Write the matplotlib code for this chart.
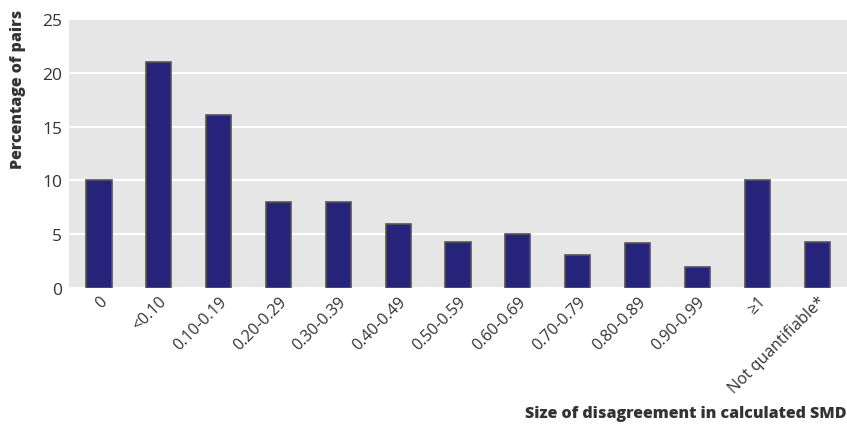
import matplotlib.pyplot as plt

categories = ['0', '<0.10', '0.10-0.19', '0.20-0.29', '0.30-0.39', '0.40-0.49',
              '0.50-0.59', '0.60-0.69', '0.70-0.79', '0.80-0.89', '0.90-0.99',
              '\u22651', 'Not quantifiable*']
values = [10, 21, 16.1, 8, 8, 6, 4.3, 5, 3.1, 4.2, 2, 10, 4.3]

plt.rcParams['font.family'] = ['Open Sans', 'DejaVu Sans']

fig = plt.figure(figsize=(8.47, 4.27), dpi=100)
ax = fig.add_axes([0.0815, 0.323, 0.9185, 0.63])
ax.set_facecolor('#e6e6e6')

index = range(len(categories))
ax.bar(index, values, 0.42, color='#25237a', edgecolor='#555555', linewidth=1.2, zorder=3)

ax.set_xlim(-0.5, 12.5)
ax.set_ylim(0, 25)
ax.set_yticks([0, 5, 10, 15, 20, 25])
ax.grid(axis='y', color='white', linewidth=1.5, zorder=0)
ax.set_axisbelow(True)
for s in ax.spines.values():
    s.set_visible(False)
ax.tick_params(length=0, labelsize=11.5, colors='#333333')
ax.tick_params(axis='y', pad=5, labelsize=12.5)
ax.set_xticks(list(index))
ax.set_xticklabels(categories, rotation=45, ha='right', rotation_mode='anchor')

fig.text(0.999, 0.012, 'Size of disagreement in calculated SMD', ha='right', va='bottom',
         fontsize=11.5, fontweight='heavy', color='#333333')
fig.text(0.021, 0.79, 'Percentage of pairs', ha='center', va='center', rotation=90,
         fontsize=11.5, fontweight='heavy', color='#333333')

fig.savefig('out.png', dpi=100)
